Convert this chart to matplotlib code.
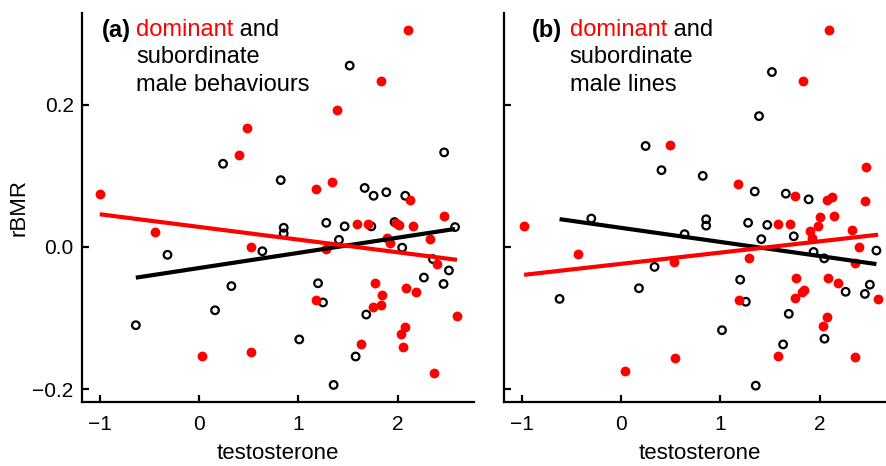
import matplotlib.pyplot as plt
import numpy as np

plt.rcParams['font.family'] = ['Liberation Sans', 'DejaVu Sans']

# panel (a): dominant / subordinate male behaviours
a_dom_x = [-1.0, 0.483, 0.403, 2.11, 1.83, 1.39, 1.18, 1.342, 2.125, -0.446,
           0.528, 0.030, 0.528, 1.591, 1.702, 1.987, 2.013, 2.155, 2.464, 1.282,
           1.893, 1.92, 2.33, 2.40, 2.088, 2.182, 1.77, 1.847, 1.83, 1.752,
           1.18, 2.60, 2.08, 2.037, 2.054, 1.635, 2.364]
a_dom_y = [0.074, 0.168, 0.130, 0.305, 0.233, 0.193, 0.081, 0.091, 0.066, 0.021,
           0.0, -0.153, -0.148, 0.032, 0.032, 0.034, 0.031, 0.030, 0.044, -0.003,
           0.012, 0.005, 0.011, -0.024, -0.057, -0.064, -0.050, -0.068, -0.081, -0.084,
           -0.074, -0.097, -0.113, -0.123, -0.140, -0.136, -0.177]
a_sub_x = [0.242, 0.823, 1.518, 2.47, 1.669, 1.759, 1.887, 2.078, 0.853, 0.853,
           0.638, -0.318, 0.326, 0.161, -0.637, 1.01, 1.282, 1.467, 1.736, 1.97,
           2.58, 1.41, 2.047, 2.357, 2.518, 2.266, 2.464, 1.199, 1.249, 1.685,
           1.578, 1.356]
a_sub_y = [0.117, 0.094, 0.255, 0.133, 0.083, 0.072, 0.077, 0.072, 0.027, 0.019,
           -0.006, -0.011, -0.055, -0.089, -0.110, -0.130, 0.034, 0.029, 0.029, 0.035,
           0.028, 0.010, -0.001, -0.017, -0.033, -0.043, -0.052, -0.051, -0.078, -0.095,
           -0.154, -0.194]

# panel (b): dominant / subordinate male lines
b_dom_x = [0.493, 2.10, 1.83, 1.183, 1.75, 2.073, 2.123, 2.467, 2.457, -0.977,
           -0.433, 0.533, 0.04, 0.543, 1.583, 1.707, 2.007, 1.983, 2.147, 1.90,
           1.923, 2.323, 2.397, 2.357, 1.287, 1.767, 2.09, 2.183, 2.59, 1.84,
           1.823, 1.75, 1.19, 2.08, 2.03, 1.58, 2.357]
b_dom_y = [0.143, 0.305, 0.234, 0.089, 0.072, 0.066, 0.070, 0.113, 0.064, 0.029,
           -0.010, -0.021, -0.174, -0.156, 0.033, 0.033, 0.042, 0.030, 0.044, 0.022,
           0.012, 0.024, 0.0, -0.022, -0.015, -0.044, -0.043, -0.050, -0.073, -0.060,
           -0.063, -0.072, -0.074, -0.099, -0.111, -0.153, -0.154]
b_sub_x = [0.247, 0.407, 1.52, 1.39, 0.823, 1.347, 1.66, 1.89, -0.30, 0.64,
           0.337, 0.18, -0.62, 0.857, 0.857, 1.28, 1.473, 1.74, 1.413, 2.573,
           1.94, 2.047, 1.20, 2.263, 2.507, 2.457, 1.257, 1.69, 2.05, 1.017,
           1.633, 1.357]
b_sub_y = [0.142, 0.108, 0.246, 0.184, 0.100, 0.078, 0.075, 0.067, 0.040, 0.018,
           -0.028, -0.058, -0.073, 0.039, 0.030, 0.034, 0.031, 0.015, 0.011, -0.005,
           -0.007, -0.016, -0.046, -0.063, -0.053, -0.066, -0.077, -0.094, -0.129, -0.117,
           -0.137, -0.195]

# regression lines: (intercept, slope)
a_dom_fit = (0.0282, -0.0178)
a_sub_fit = (-0.0296, 0.0213)
b_dom_fit = (-0.0237, 0.0158)
b_sub_fit = (0.0269, -0.0198)

RED = '#ff0000'


def draw_panel(ax, dom_x, dom_y, sub_x, sub_y, dom_fit, sub_fit, tag, line3):
    ax.scatter(sub_x, sub_y, s=30, facecolors='none', edgecolors='black',
               linewidths=1.6, zorder=2)
    ax.scatter(dom_x, dom_y, s=50, color=RED, linewidths=0, zorder=2)
    for xs, fit, col in [(sub_x, sub_fit, 'black'), (dom_x, dom_fit, RED)]:
        xx = np.array([min(xs), max(xs)])
        ax.plot(xx, fit[0] + fit[1] * xx, color=col, lw=3.0, zorder=3,
                solid_capstyle='butt')
    ax.set_xlim(-1.18, 2.77)
    ax.set_ylim(-0.218, 0.329)
    ax.set_xticks([-1, 0, 1, 2])
    ax.set_yticks([-0.2, 0.0, 0.2])
    for s in ['top', 'right']:
        ax.spines[s].set_visible(False)
    for s in ['left', 'bottom']:
        ax.spines[s].set_linewidth(1.6)
    ax.tick_params(direction='in', length=5, width=1.6, labelsize=15)
    ax.tick_params(axis='x', pad=9)
    ax.tick_params(axis='y', pad=6)
    ax.set_xlabel('testosterone', fontsize=16, labelpad=7)

    ax.text(tag[1], 0.956, tag[0], transform=ax.transAxes, fontsize=17,
            fontweight='bold', va='center')
    d = ax.text(tag[2], 0.956, 'dominant', transform=ax.transAxes,
                fontsize=17, color=RED, va='center')
    ax.annotate(' and', xy=(1, 0), xycoords=d, va='bottom', fontsize=17)
    ax.text(tag[2], 0.887, 'subordinate', transform=ax.transAxes,
            fontsize=17, va='center')
    ax.text(tag[2], 0.815, line3, transform=ax.transAxes,
            fontsize=17, va='center')


fig = plt.figure(figsize=(8.87, 4.66), dpi=100)
ax1 = fig.add_axes([0.0924, 0.1373, 0.4419, 0.8348])
ax2 = fig.add_axes([0.5682, 0.1373, 0.4419, 0.8348])

draw_panel(ax1, a_dom_x, a_dom_y, a_sub_x, a_sub_y, a_dom_fit, a_sub_fit,
           ('(a)', 0.051, 0.138), 'male behaviours')
draw_panel(ax2, b_dom_x, b_dom_y, b_sub_x, b_sub_y, b_dom_fit, b_sub_fit,
           ('(b)', 0.071, 0.168), 'male lines')

ax1.set_ylabel('rBMR', fontsize=16, labelpad=2)
ax2.tick_params(axis='y', labelleft=False)

fig.savefig('out.png', dpi=100)
